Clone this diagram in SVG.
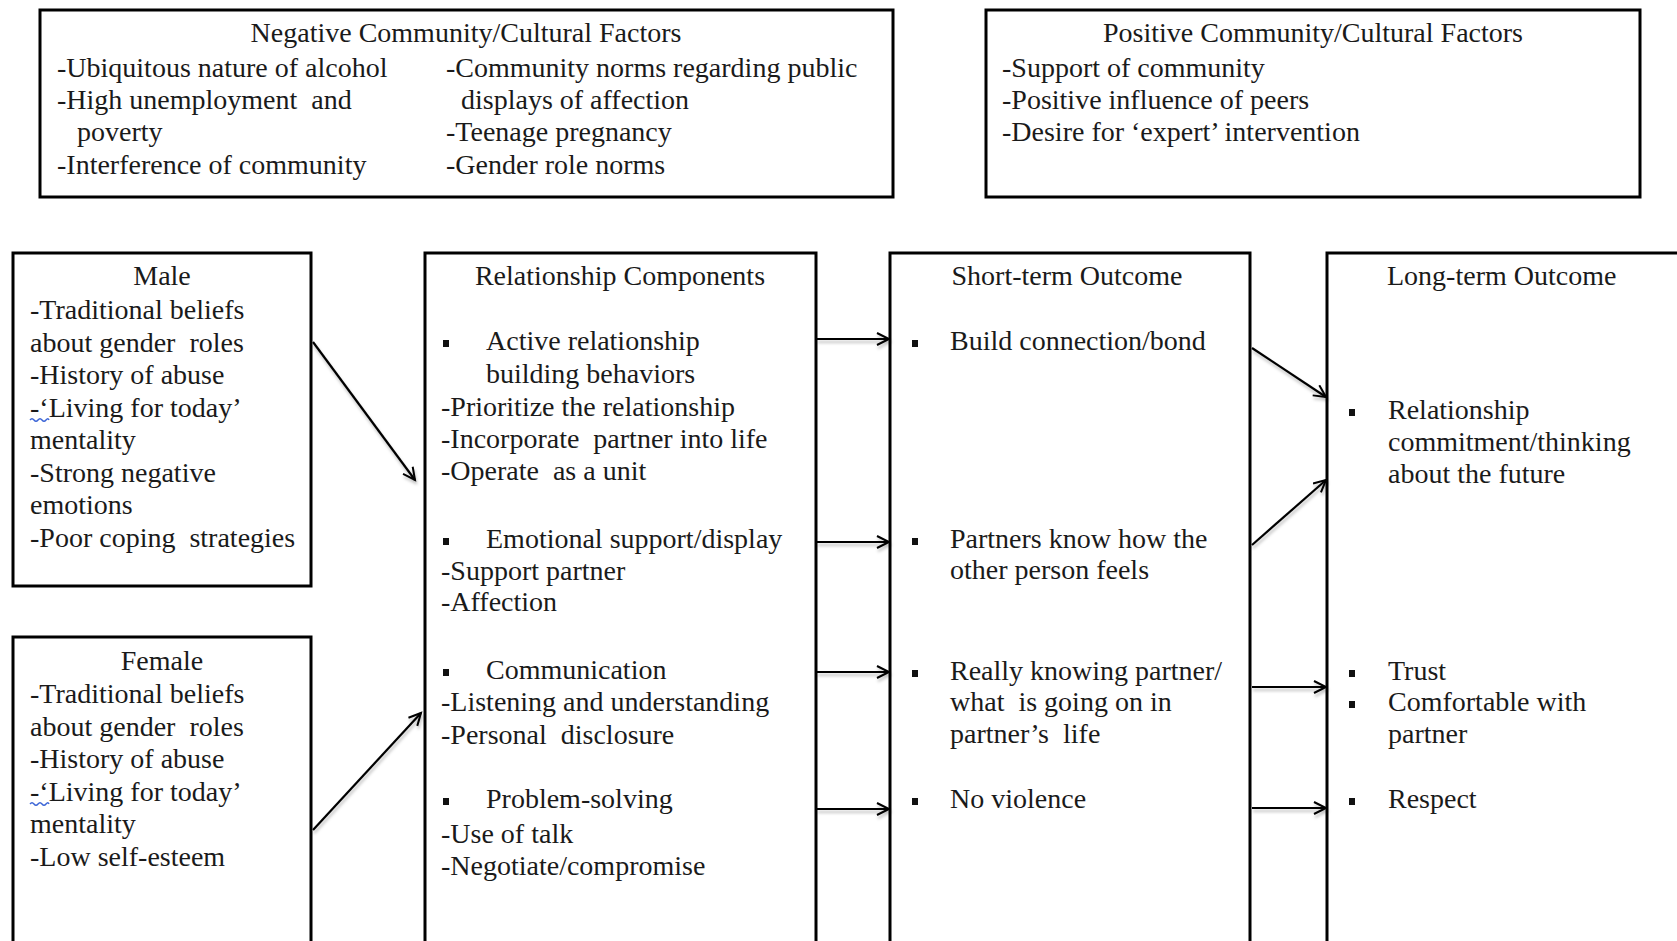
<svg xmlns="http://www.w3.org/2000/svg" width="1677" height="941" viewBox="0 0 1677 941">
<style>
.t{font-family:"Liberation Serif","Times New Roman",serif;font-size:28px;fill:#1a1a1a;white-space:pre}
.c{text-anchor:middle}
.box{fill:#fff;stroke:#000;stroke-width:3}
.con{stroke:#000;stroke-width:2.2;fill:none;marker-end:url(#ah)}
.bul{fill:#111}
.sq{fill:none;stroke:#3b64d6;stroke-width:1.4}
</style>
<defs>
<marker id="ah" markerUnits="userSpaceOnUse" markerWidth="16" markerHeight="16" refX="13" refY="7" orient="auto">
<path d="M1,1 L13,7 L1,13" fill="none" stroke="#000" stroke-width="2"/>
</marker>
<filter id="sh" x="-20%" y="-20%" width="140%" height="160%">
<feDropShadow dx="1" dy="3" stdDeviation="1.5" flood-color="#000" flood-opacity="0.25"/>
</filter>
</defs>
<rect width="1677" height="941" fill="#fff"/>

<g id="negative">
<rect class="box" x="40" y="10" width="853" height="187"/>
<text class="t c" x="466" y="42">Negative Community/Cultural Factors</text>
<text class="t" x="57" y="77">-Ubiquitous nature of alcohol</text>
<text class="t" x="57" y="109">-High unemployment  and</text>
<text class="t" x="77" y="141">poverty</text>
<text class="t" x="57" y="174">-Interference of community</text>
<text class="t" x="446" y="77">-Community norms regarding public</text>
<text class="t" x="461" y="109">displays of affection</text>
<text class="t" x="446" y="141">-Teenage pregnancy</text>
<text class="t" x="446" y="174">-Gender role norms</text>
</g>

<g id="positive">
<rect class="box" x="986" y="10" width="654" height="187"/>
<text class="t c" x="1313" y="42">Positive Community/Cultural Factors</text>
<text class="t" x="1002" y="77">-Support of community</text>
<text class="t" x="1002" y="109">-Positive influence of peers</text>
<text class="t" x="1002" y="141">-Desire for ‘expert’ intervention</text>
</g>

<g id="male">
<rect class="box" x="13" y="253" width="298" height="333"/>
<text class="t c" x="162" y="285">Male</text>
<text class="t" x="30" y="319">-Traditional beliefs</text>
<text class="t" x="30" y="351.5">about gender  roles</text>
<text class="t" x="30" y="384">-History of abuse</text>
<text class="t" x="30" y="416.5">-‘Living for today’</text>
<path class="sq" d="M30,420 q2,-2.5 4,0 t4,0 t4,0 t4,0 t3,0"/>
<text class="t" x="30" y="449">mentality</text>
<text class="t" x="30" y="481.5">-Strong negative</text>
<text class="t" x="30" y="514">emotions</text>
<text class="t" x="30" y="546.5">-Poor coping  strategies</text>
</g>

<g id="female">
<rect class="box" x="13" y="637" width="298" height="340"/>
<text class="t c" x="162" y="670">Female</text>
<text class="t" x="30" y="703">-Traditional beliefs</text>
<text class="t" x="30" y="735.5">about gender  roles</text>
<text class="t" x="30" y="768">-History of abuse</text>
<text class="t" x="30" y="800.5">-‘Living for today’</text>
<path class="sq" d="M30,804 q2,-2.5 4,0 t4,0 t4,0 t4,0 t3,0"/>
<text class="t" x="30" y="833">mentality</text>
<text class="t" x="30" y="865.5">-Low self-esteem</text>
</g>

<g id="relationship">
<rect class="box" x="425" y="253" width="391" height="720"/>
<text class="t c" x="620" y="285">Relationship Components</text>
<rect class="bul" x="443" y="340" width="6" height="7"/>
<text class="t" x="486" y="350">Active relationship</text>
<text class="t" x="486" y="383">building behaviors</text>
<text class="t" x="441" y="416">-Prioritize the relationship</text>
<text class="t" x="441" y="448">-Incorporate  partner into life</text>
<text class="t" x="441" y="480">-Operate  as a unit</text>
<rect class="bul" x="443" y="538" width="6" height="7"/>
<text class="t" x="486" y="548">Emotional support/display</text>
<text class="t" x="441" y="580">-Support partner</text>
<text class="t" x="441" y="611">-Affection</text>
<rect class="bul" x="443" y="669" width="6" height="7"/>
<text class="t" x="486" y="679">Communication</text>
<text class="t" x="441" y="711">-Listening and understanding</text>
<text class="t" x="441" y="744">-Personal  disclosure</text>
<rect class="bul" x="443" y="798" width="6" height="7"/>
<text class="t" x="486" y="808">Problem-solving</text>
<text class="t" x="441" y="843">-Use of talk</text>
<text class="t" x="441" y="875">-Negotiate/compromise</text>
</g>

<g id="shortterm">
<rect class="box" x="890" y="253" width="360" height="720"/>
<text class="t c" x="1067" y="285">Short-term Outcome</text>
<rect class="bul" x="912" y="340" width="6" height="7"/>
<text class="t" x="950" y="350">Build connection/bond</text>
<rect class="bul" x="912" y="538" width="6" height="7"/>
<text class="t" x="950" y="548">Partners know how the</text>
<text class="t" x="950" y="579">other person feels</text>
<rect class="bul" x="912" y="670" width="6" height="7"/>
<text class="t" x="950" y="680">Really knowing partner/</text>
<text class="t" x="950" y="711">what  is going on in</text>
<text class="t" x="950" y="743">partner’s  life</text>
<rect class="bul" x="912" y="798" width="6" height="7"/>
<text class="t" x="950" y="808">No violence</text>
</g>

<g id="longterm">
<rect class="box" x="1327" y="253" width="400" height="720"/>
<text class="t" x="1387" y="285">Long-term Outcome</text>
<rect class="bul" x="1349" y="409" width="6" height="7"/>
<text class="t" x="1388" y="419">Relationship</text>
<text class="t" x="1388" y="451">commitment/thinking</text>
<text class="t" x="1388" y="483">about the future</text>
<rect class="bul" x="1349" y="670" width="6" height="7"/>
<text class="t" x="1388" y="680">Trust</text>
<rect class="bul" x="1349" y="701" width="6" height="7"/>
<text class="t" x="1388" y="711">Comfortable with</text>
<text class="t" x="1388" y="743">partner</text>
<rect class="bul" x="1349" y="798" width="6" height="7"/>
<text class="t" x="1388" y="808">Respect</text>
</g>

<g id="connectors" filter="url(#sh)">
<line class="con" x1="313" y1="342" x2="415" y2="480"/>
<line class="con" x1="313" y1="830" x2="421" y2="713"/>
<line class="con" x1="817" y1="339" x2="889" y2="339"/>
<line class="con" x1="817" y1="542" x2="889" y2="542"/>
<line class="con" x1="817" y1="672" x2="889" y2="672"/>
<line class="con" x1="817" y1="809" x2="889" y2="809"/>
<line class="con" x1="1252" y1="348" x2="1326" y2="397"/>
<line class="con" x1="1252" y1="545" x2="1326" y2="480"/>
<line class="con" x1="1252" y1="687" x2="1326" y2="687"/>
<line class="con" x1="1252" y1="808" x2="1326" y2="808"/>
</g>
</svg>
